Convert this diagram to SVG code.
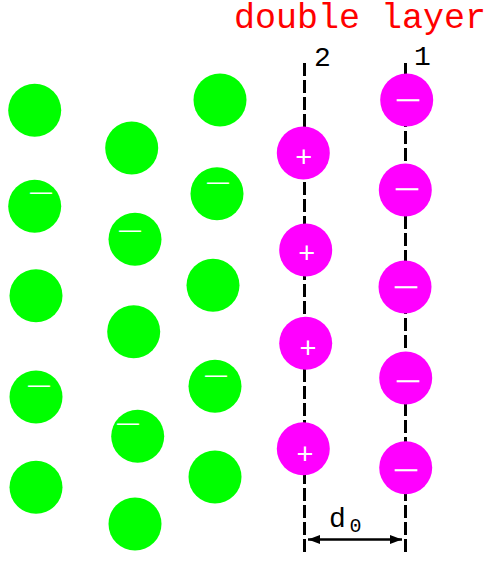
<svg xmlns="http://www.w3.org/2000/svg" width="489" height="562" viewBox="0 0 489 562">
<style>
.g{fill:#00ff00}
.m{fill:#ff00ff}
.dl{stroke:#000;stroke-width:3;stroke-dasharray:13 4;fill:none}
.pl{fill:#fff;font-family:"Liberation Sans",Arial,sans-serif;font-size:29px;text-anchor:middle}
.mi{fill:#fff;stroke:#fff;stroke-width:0.4;font-family:"Liberation Sans",Arial,sans-serif;font-size:22px}
.gm{fill:#fff;font-family:"Liberation Sans",Arial,sans-serif;font-size:22px}
.lab{font-family:"Liberation Mono","Courier New",monospace;fill:#000}
</style>
<defs>
<marker id="ah" viewBox="0 0 12 9" refX="12" refY="4.5" markerWidth="12" markerHeight="9" markerUnits="userSpaceOnUse" orient="auto-start-reverse">
<path d="M0,0 L12,4.5 L0,9 Z" fill="#000"/>
</marker>
</defs>
<rect width="489" height="562" fill="#fff"/>
<text id="title" class="lab" x="234" y="28" font-size="35" style="fill:#ff0000">double layer</text>
<g id="connectors">
<line class="dl" x1="304.5" y1="63" x2="304.5" y2="556"/>
<line class="dl" x1="405.5" y1="63" x2="405.5" y2="556"/>
<line x1="308" y1="539.5" x2="402" y2="539.5" stroke="#000" stroke-width="2.5" marker-start="url(#ah)" marker-end="url(#ah)"/>
</g>
<g id="label-2"><text class="lab" x="314" y="66" font-size="28">2</text></g>
<g id="label-1"><text class="lab" x="414" y="65" font-size="28">1</text></g>
<g id="label-d0"><text class="lab" x="329" y="527" font-size="28">d</text><text class="lab" x="349.5" y="531.5" font-size="20">0</text></g>
<g id="green">
<g id="g1"><circle class="g" cx="34.7" cy="110.3" r="26.5"/></g>
<g id="g2"><circle class="g" cx="131.7" cy="148" r="26.5"/></g>
<g id="g3"><circle class="g" cx="220" cy="100" r="26.5"/></g>
<g id="g4"><circle class="g" cx="34.7" cy="206.3" r="26.5"/><text class="gm" x="30" y="198.5">—</text></g>
<g id="g5"><circle class="g" cx="135" cy="239.3" r="26.5"/><text class="gm" x="119" y="236.5">—</text></g>
<g id="g6"><circle class="g" cx="217" cy="193.7" r="26.5"/><text class="gm" x="207" y="189">—</text></g>
<g id="g7"><circle class="g" cx="36" cy="295.7" r="26.5"/></g>
<g id="g8"><circle class="g" cx="213" cy="285.3" r="26.5"/></g>
<g id="g9"><circle class="g" cx="133.7" cy="331.7" r="26.5"/></g>
<g id="g10"><circle class="g" cx="36" cy="397" r="26.5"/><text class="gm" x="28" y="391.5">—</text></g>
<g id="g11"><circle class="g" cx="215" cy="386.3" r="26.5"/><text class="gm" x="205" y="381.5">—</text></g>
<g id="g12"><circle class="g" cx="137.7" cy="436.3" r="26.5"/><text class="gm" x="117" y="429.5">—</text></g>
<g id="g13"><circle class="g" cx="36" cy="487.3" r="26.5"/></g>
<g id="g14"><circle class="g" cx="215" cy="477" r="26.5"/></g>
<g id="g15"><circle class="g" cx="135" cy="524" r="26.5"/></g>
</g>
<g id="plus">
<g id="p1"><circle class="m" cx="303.3" cy="153" r="26.5"/><text class="pl" x="303.7" y="166.5">+</text></g>
<g id="p2"><circle class="m" cx="305.7" cy="250" r="26.5"/><text class="pl" x="306.7" y="263">+</text></g>
<g id="p3"><circle class="m" cx="305.7" cy="343.3" r="26.5"/><text class="pl" x="308" y="357.5">+</text></g>
<g id="p4"><circle class="m" cx="303.3" cy="448.7" r="26.5"/><text class="pl" x="305" y="464">+</text></g>
</g>
<g id="minus">
<g id="n1"><circle class="m" cx="406.7" cy="100" r="26.5"/><text class="mi" x="397" y="105.5">—</text></g>
<g id="n2"><circle class="m" cx="405.3" cy="190" r="26.5"/><text class="mi" x="396" y="195">—</text></g>
<g id="n3"><circle class="m" cx="405" cy="287" r="26.5"/><text class="mi" x="395" y="292.5">—</text></g>
<g id="n4"><circle class="m" cx="405.7" cy="378" r="26.5"/><text class="mi" x="397" y="387">—</text></g>
<g id="n5"><circle class="m" cx="405.7" cy="467.7" r="26.5"/><text class="mi" x="395" y="475.5">—</text></g>
</g>
</svg>
